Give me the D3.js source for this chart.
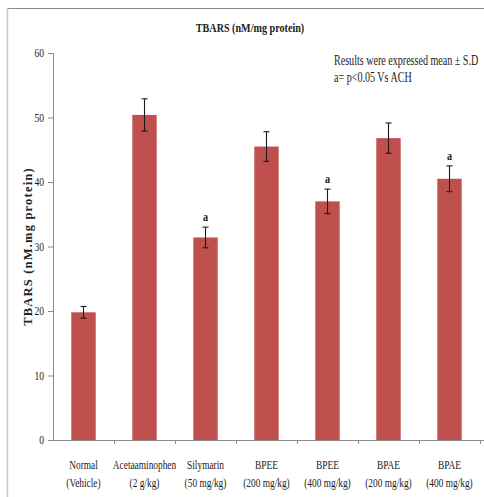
<!DOCTYPE html>
<html>
<head>
<meta charset="utf-8">
<script src="https://cdn.jsdelivr.net/npm/d3@7"></script>
<style>
  body { margin: 0; background: #fff; }
  text { font-family: "Liberation Serif", "DejaVu Serif", serif; }
</style>
</head>
<body>
<svg id="chart" width="484" height="497"></svg>
<script>
// data
const groups = ["Normal", "Acetaaminophen", "Silymarin", "BPEE", "BPEE", "BPAE", "BPAE"];
const doses = ["(Vehicle)", "(2 g/kg)", "(50 mg/kg)", "(200 mg/kg)", "(400 mg/kg)", "(200 mg/kg)", "(400 mg/kg)"];
const means = [19.8, 50.4, 31.4, 45.5, 37.0, 46.8, 40.5];
const sds = [0.9, 2.5, 1.6, 2.3, 1.9, 2.35, 2.0];
const marks = ["", "", "a", "", "a", "", "a"];
const yTicks = [0, 10, 20, 30, 40, 50, 60];

const data = groups.map((g, i) => ({
  key: i, group: g, dose: doses[i], mean: means[i], sd: sds[i], mark: marks[i]
}));

var svg = d3.select("#chart"),
    margin = {top: 53, right: 4, bottom: 57, left: 53},
    width = +svg.attr("width") - margin.left - margin.right,
    height = +svg.attr("height") - margin.top - margin.bottom;

// frame lines (top + left, like the cropped figure)
svg.append("line").attr("x1", 7).attr("x2", 484).attr("y1", 8.5).attr("y2", 8.5)
  .attr("stroke", "#8a8a8a").attr("stroke-width", 1.2);
svg.append("line").attr("x1", 7.5).attr("x2", 7.5).attr("y1", 8).attr("y2", 497)
  .attr("stroke", "#c8c8c8").attr("stroke-width", 1.5);

// squeezed serif text helper (the original font is narrow)
function label(parent, x, y, str, opts) {
  opts = opts || {};
  var g = parent.append("g")
    .attr("transform", "translate(" + x + "," + y + ")" + (opts.rotate ? " rotate(" + opts.rotate + ")" : "") +
      " scale(" + (opts.sx || 0.75) + ",1)");
  return g.append("text")
    .attr("text-anchor", opts.anchor || "middle")
    .attr("font-size", opts.size || 12)
    .attr("font-weight", opts.bold ? "bold" : "normal")
    .attr("fill", "#222")
    .text(str);
}

var chart = svg.append("g")
  .attr("transform", "translate(" + margin.left + "," + margin.top + ")");

var x = d3.scaleBand()
  .domain(data.map(d => d.key))
  .range([0, width])
  .paddingInner(0.6)
  .paddingOuter(0.3);

var y = d3.scaleLinear().domain([0, 60]).range([height, 0]);

// Y axis
var yAxis = chart.append("g")
  .call(d3.axisLeft(y).tickValues(yTicks).tickSize(5).tickPadding(4));
yAxis.select(".domain").attr("stroke", "#8c8c8c");
yAxis.selectAll(".tick line").attr("stroke", "#8c8c8c");
yAxis.selectAll(".tick text").remove();
yTicks.forEach(function (t) {
  label(chart, -9, y(t) + 4, t, {anchor: "end", size: 12, sx: 0.8});
});

// X axis: ticks between categories
var bounds = d3.range(groups.length + 1).map(i => i * width / groups.length);
chart.append("line")
  .attr("x1", 0).attr("x2", width + margin.right)
  .attr("y1", height + 0.5).attr("y2", height + 0.5)
  .attr("stroke", "#8c8c8c");
chart.selectAll(".xtick")
  .data(bounds.slice(1))
  .enter()
  .append("line")
  .attr("x1", d => d + 0.5).attr("x2", d => d + 0.5)
  .attr("y1", height).attr("y2", height + 4)
  .attr("stroke", "#8c8c8c");

data.forEach(function (d) {
  var cx = x(d.key) + x.bandwidth() / 2;
  label(chart, cx, height + 29, d.group, {size: 13, sx: 0.72});
  label(chart, cx, height + 47, d.dose, {size: 13, sx: 0.72});
});

// Bars
chart.selectAll("rect.bar")
  .data(data)
  .enter()
  .append("rect")
  .attr("class", "bar")
  .attr("x", d => x(d.key))
  .attr("y", d => y(d.mean))
  .attr("width", x.bandwidth())
  .attr("height", d => height - y(d.mean))
  .attr("fill", "#c0504d");

// Error bars
var err = chart.selectAll("g.err")
  .data(data)
  .enter()
  .append("g")
  .attr("class", "err")
  .attr("stroke", "#1a1a1a")
  .attr("stroke-width", 1.1);
err.append("line")
  .attr("x1", d => x(d.key) + x.bandwidth() / 2)
  .attr("x2", d => x(d.key) + x.bandwidth() / 2)
  .attr("y1", d => y(d.mean + d.sd))
  .attr("y2", d => y(d.mean - d.sd));
err.append("line")
  .attr("x1", d => x(d.key) + x.bandwidth() / 2 - 3)
  .attr("x2", d => x(d.key) + x.bandwidth() / 2 + 3)
  .attr("y1", d => y(d.mean + d.sd))
  .attr("y2", d => y(d.mean + d.sd));
err.append("line")
  .attr("x1", d => x(d.key) + x.bandwidth() / 2 - 3)
  .attr("x2", d => x(d.key) + x.bandwidth() / 2 + 3)
  .attr("y1", d => y(d.mean - d.sd))
  .attr("y2", d => y(d.mean - d.sd));

// significance letters
data.filter(d => d.mark).forEach(function (d) {
  label(chart, x(d.key) + x.bandwidth() / 2, y(d.mean + d.sd) - 6, d.mark, {size: 12, sx: 0.85, bold: true});
});

// Title
label(svg, 250, 32, "TBARS (nM/mg protein)", {size: 13, bold: true, sx: 0.78});

// Note
label(svg, 334, 65, "Results were expressed mean \u00b1 S.D", {anchor: "start", size: 14, sx: 0.72});
label(svg, 334, 82, "a= p<0.05 Vs  ACH", {anchor: "start", size: 14, sx: 0.72});

// Y axis title (spaced out along the axis)
svg.append("text")
  .attr("transform", "translate(32," + (margin.top + height / 2) + ") rotate(-90)")
  .attr("text-anchor", "middle")
  .attr("font-size", 12.5)
  .attr("font-weight", "bold")
  .attr("fill", "#222")
  .attr("letter-spacing", 1.2)
  .text("TBARS (nM.mg protein)");
</script>
</body>
</html>
